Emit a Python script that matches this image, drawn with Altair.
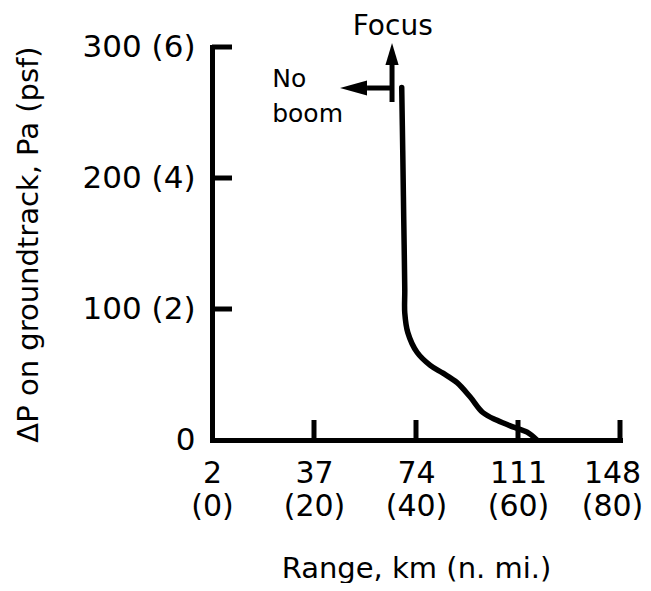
import altair as alt
import pandas as pd

# Curve: range in n.mi., overpressure in Pa
curve_nmi = [37.2, 37.4, 37.6, 37.8, 37.8, 38.4, 40.2, 42.8, 45.3, 48.0, 50.6, 53.1, 55.9, 59.0, 61.8, 63.7]
curve_pa = [269, 221, 168, 115, 97, 82, 67, 57, 51, 44, 33, 21, 15, 10, 6, 0]

# Axis ticks / labels
x_ticks = [0, 20, 40, 60, 80]
x_km_labels = ["2", "37", "74", "111", "148"]
x_nmi_labels = ["(0)", "(20)", "(40)", "(60)", "(80)"]
y_ticks = [0, 100, 200, 300]
y_labels = ["0", "100 (2)", "200 (4)", "300 (6)"]

# Annotations (data coordinates)
ann_text = ["Focus", "No", "boom"]
ann_x = [27.6, 11.8, 11.8]
ann_y = [309.0, 269.5, 242.7]
ann_size = [28, 25, 25]

arrow_up_x = [35.3, 35.3]
arrow_up_y = [258.0, 286.3]
arrow_up_head = (35.3, 294.7)
arrow_left_x = [35.3, 30.4]
arrow_left_y = [268.7, 268.7]
arrow_left_head = (27.75, 268.7)

W, H = 408, 393

def nested(values, labels):
    expr = "''"
    for v, l in reversed(list(zip(values, labels))):
        expr = f"(datum.value == {v} ? {l} : {expr})"
    return expr

x_label_expr = nested(x_ticks, [f"['{a}', '{b}']" for a, b in zip(x_km_labels, x_nmi_labels)])
y_label_expr = nested(y_ticks, [f"'{l}'" for l in y_labels])

xs = alt.Scale(domain=[0, 80], nice=False, zero=False)
ys = alt.Scale(domain=[0, 300], nice=False, zero=False)

x_axis = alt.Axis(values=x_ticks, ticks=False, grid=False, domainWidth=5, domainColor="black",
                  domainCap="square", labelExpr=x_label_expr, labelFontSize=30, labelLineHeight=33,
                  labelPadding=18, labelColor="black", labelFlush=False, labelOverlap=False,
                  labelOffset={"condition": {"test": f"datum.value == {x_ticks[-1]}", "value": -8}, "value": 0},
                  title="Range, km (n. mi.)", titleFontSize=29, titleFontWeight="normal",
                  titleColor="black", titleX=204, titleY=128, titleBaseline="middle", titleAlign="center")
y_axis = alt.Axis(values=y_ticks, ticks=False, grid=False, domainWidth=5, domainColor="black",
                  domainCap="square", labelExpr=y_label_expr, labelFontSize=31, labelPadding=17,
                  labelColor="black", labelFlush=False, labelOverlap=False,
                  title="ΔP on groundtrack, Pa (psf)", titleFontSize=29, titleFontWeight="normal",
                  titleColor="black", titleX=-184, titleY=197, titleAngle=270,
                  titleBaseline="middle", titleAlign="center")

X = alt.X("x:Q", scale=xs, axis=x_axis)
Y = alt.Y("y:Q", scale=ys, axis=y_axis)

curve_df = pd.DataFrame({"x": curve_nmi, "y": curve_pa, "o": list(range(len(curve_nmi)))})
curve = alt.Chart(curve_df).mark_line(color="black", strokeWidth=5.5, interpolate="catmull-rom",
                                      strokeCap="round").encode(x=X, y=Y, order="o:Q")

xt_df = pd.DataFrame({"x": x_ticks[1:]})
xticks = alt.Chart(xt_df).mark_rule(color="black", strokeWidth=5).encode(
    x=X, y=alt.value(H), y2=alt.value(H - 20))
yt_df = pd.DataFrame({"y": y_ticks[1:]})
yticks = alt.Chart(yt_df).mark_rule(color="black", strokeWidth=5).encode(
    y=Y, x=alt.value(0), x2=alt.value(20))

ann_df = pd.DataFrame({"x": ann_x, "y": ann_y, "t": ann_text, "s": ann_size})
ann = alt.Chart(ann_df).mark_text(align="left", baseline="alphabetic", color="black").encode(
    x=X, y=Y, text="t:N", size=alt.Size("s:Q", scale=None, legend=None))

up_df = pd.DataFrame({"x": arrow_up_x, "y": arrow_up_y, "o": [0, 1]})
up_line = alt.Chart(up_df).mark_line(color="black", strokeWidth=5).encode(x=X, y=Y, order="o:Q")
left_df = pd.DataFrame({"x": arrow_left_x, "y": arrow_left_y, "o": [0, 1]})
left_line = alt.Chart(left_df).mark_line(color="black", strokeWidth=5).encode(x=X, y=Y, order="o:Q")

up_head_df = pd.DataFrame({"x": [arrow_up_head[0]], "y": [arrow_up_head[1]]})
up_head = alt.Chart(up_head_df).mark_point(
    shape="M -0.6 1 L 0 -1 L 0.6 1 Z", filled=True, size=484, color="black", opacity=1,
    strokeWidth=0).encode(x=X, y=Y)
left_head_df = pd.DataFrame({"x": [arrow_left_head[0]], "y": [arrow_left_head[1]]})
left_head = alt.Chart(left_head_df).mark_point(
    shape="M 1 -0.55 L -1 0 L 1 0.55 Z", filled=True, size=729, color="black", opacity=1,
    strokeWidth=0).encode(x=X, y=Y)

chart = alt.layer(curve, xticks, yticks, ann, up_line, left_line, up_head, left_head).properties(
    width=W, height=H,
    autosize=alt.AutoSizeParams(type="none"),
    padding={"left": 204, "top": 39, "right": 23, "bottom": 143},
).configure(font="DejaVu Sans", background="white").configure_view(stroke=None)

chart.save("out.html", embed_options={"renderer": "svg", "actions": False})
